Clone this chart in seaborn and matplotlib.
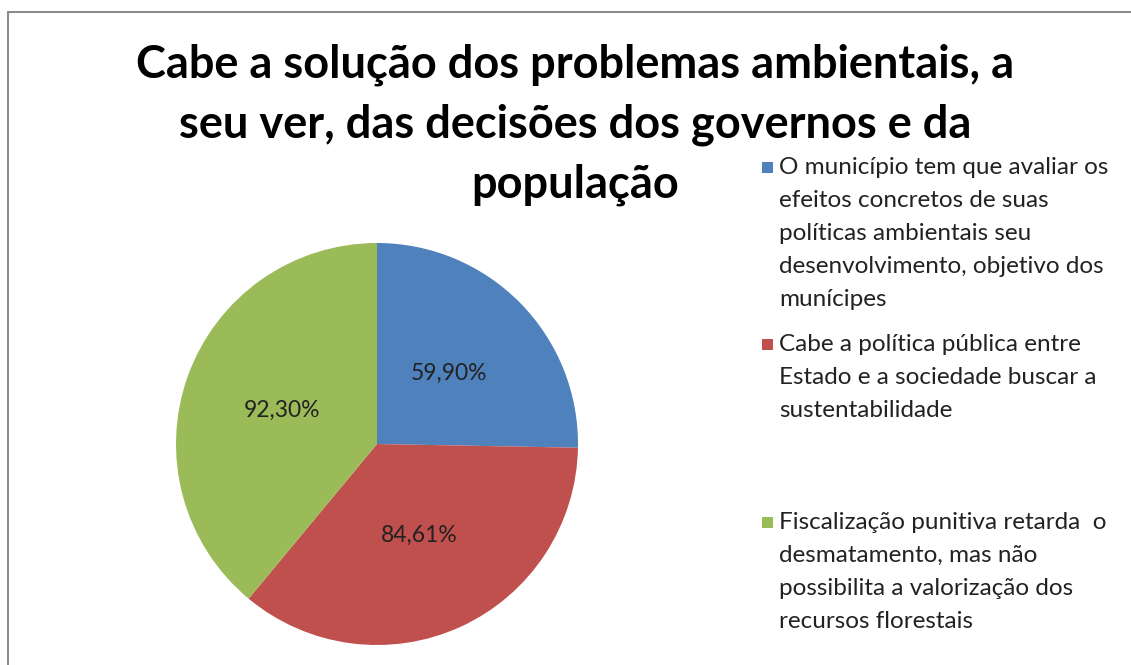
import matplotlib
matplotlib.use("Agg")
import matplotlib.pyplot as plt
import seaborn as sns
from matplotlib.patches import Rectangle

sns.set_theme(style="white")
plt.rcParams['font.family'] = ['Lato', 'DejaVu Sans']

title_lines = ["Cabe a solução dos problemas ambientais, a",
               "seu ver, das decisões dos governos e da",
               "população"]
categories = [
    "O município tem que avaliar os\nefeitos concretos de suas\npolíticas ambientais seu\ndesenvolvimento, objetivo dos\nmunícipes",
    "Cabe a política pública entre\nEstado e a sociedade buscar a\nsustentabilidade",
    "Fiscalização punitiva retarda  o\ndesmatamento, mas não\npossibilita a valorização dos\nrecursos florestais",
]
values = [59.90, 84.61, 92.30]
value_labels = ["59,90%", "84,61%", "92,30%"]
colors = ["#4F81BD", "#C0504D", "#9BBB59"]

W, H = 1131, 665
fig = plt.figure(figsize=(W / 100, H / 100), dpi=100)
fig.patch.set_facecolor("white")

# chart frame (top and left border visible)
fig.add_artist(plt.Line2D([8 / W, 8 / W], [0, 1 - 12 / H], transform=fig.transFigure,
                          color="#8c8c8c", lw=1.5))
fig.add_artist(plt.Line2D([8 / W, 1], [1 - 12 / H, 1 - 12 / H], transform=fig.transFigure,
                          color="#8c8c8c", lw=1.5))

cx, cy, r = 377, 444, 201
ax = fig.add_axes([(cx - r) / W, (H - cy - r) / H, 2 * r / W, 2 * r / H])
wedges, texts = ax.pie(values, colors=colors, startangle=90, counterclock=False,
                       labels=value_labels, labeldistance=0.5,
                       wedgeprops=dict(linewidth=0),
                       textprops=dict(fontsize=16.5, color="#222222", ha="center", va="center"))
for t in texts:
    t.set_horizontalalignment("center")
ax.set_aspect("equal")
ax.set_xlim(-1, 1)
ax.set_ylim(-1, 1)
ax.axis("off")

for i, line in enumerate(title_lines):
    fig.text(575 / W, 1 - (65 + 60 * i) / H, line, ha="center", va="center",
             fontsize=32.5, fontweight="bold", color="black")

# legend
starts = [167, 344, 522]
for lab, col, y0 in zip(categories, colors, starts):
    fig.add_artist(Rectangle((762 / W, 1 - (y0 + 6) / H), 11 / W, 11 / H,
                             transform=fig.transFigure, facecolor=col, edgecolor="none"))
    fig.text(779 / W, 1 - (y0 - 10) / H, lab, ha="left", va="top", fontsize=17.5,
             color="#222222", linespacing=1.70)

fig.savefig("out.png", dpi=100, facecolor="white")
